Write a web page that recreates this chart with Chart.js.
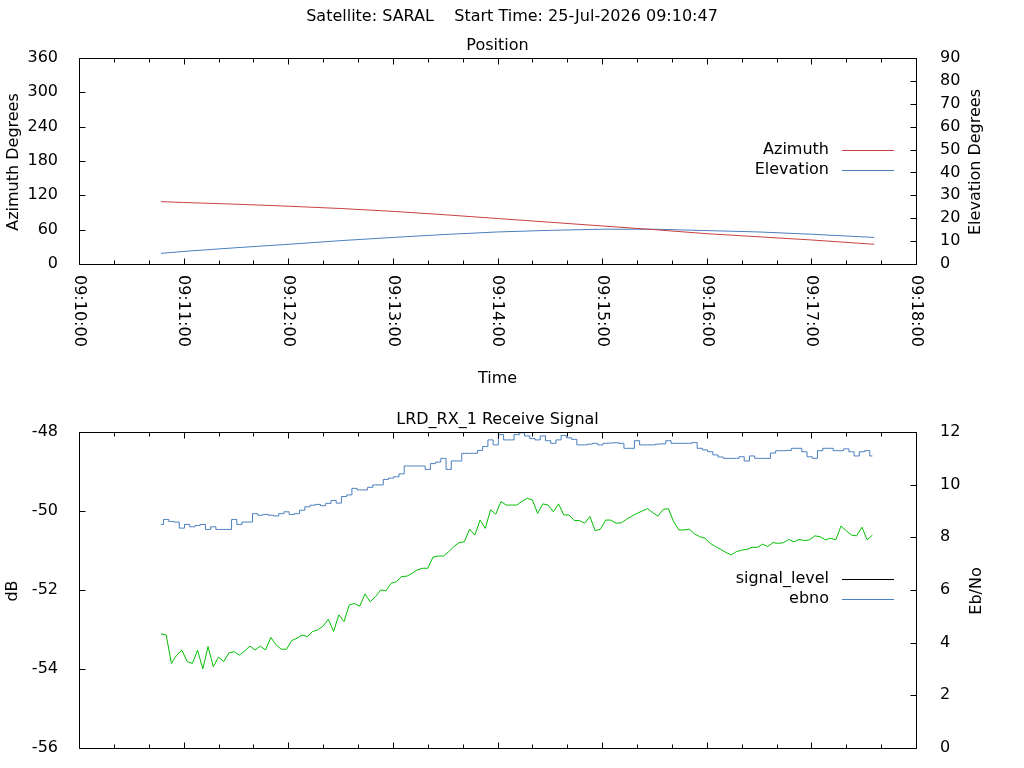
<!DOCTYPE html>
<html>
<head>
<meta charset="utf-8">
<title>SARAL pass</title>
<script src="https://cdn.jsdelivr.net/npm/chart.js@4.4.0/dist/chart.umd.min.js"></script>
<style>
body { margin: 0; background: #fff; }
#wrap { position: relative; width: 1024px; height: 768px; }
canvas { position: absolute; left: 0; }
</style>
</head>
<body>
<div id="wrap">
<canvas id="cvs_pos" width="1024" height="400" style="top:0px"></canvas>
<canvas id="cvs_sig" width="1024" height="368" style="top:400px"></canvas>
</div>
<script>
// seconds after 09:10:00
var timeTicks = ['09:10:00', '09:11:00', '09:12:00', '09:13:00', '09:14:00',
                 '09:15:00', '09:16:00', '09:17:00', '09:18:00'];

var posTimes  = [47, 60, 90, 120, 150, 180, 210, 240, 270, 300, 330, 360, 390, 420, 456];
var azimuth   = [109, 107.5, 104.5, 101, 97, 92, 86, 79.5, 73, 66.5, 60, 53, 47.5, 42, 34.5];
var elevation = [4.65, 5.5, 7.1, 8.6, 10.2, 11.6, 12.9, 14.0, 14.7, 15.2, 15.2, 14.6, 14.0, 13.0, 11.6];

// receive signal sampled every 3 s from 09:10:47
var sigStart = 47, sigStep = 3;
var signalLevel = [
  -53.11, -53.14, -53.86, -53.65, -53.52, -53.81, -53.86, -53.52, -54.00, -53.43,
  -53.94, -53.70, -53.81, -53.59, -53.56, -53.65, -53.54, -53.42, -53.52, -53.42,
  -53.52, -53.20, -53.39, -53.50, -53.50, -53.28, -53.22, -53.14, -53.18, -53.05,
  -53.01, -52.91, -52.74, -53.05, -52.63, -52.80,
  -52.38, -52.34, -52.41, -52.10, -52.30, -52.17, -52.00, -52.02, -51.83, -51.79,
  -51.66, -51.65, -51.58, -51.49, -51.45, -51.45, -51.17, -51.14, -51.14, -51.03,
  -50.90, -50.80, -50.78, -50.46, -50.61, -50.23, -50.44, -49.97, -50.08, -49.76,
  -49.85, -49.85, -49.85, -49.76, -49.68,
  -49.72, -50.06, -49.82, -49.85, -50.02, -49.82, -50.10, -50.10, -50.24, -50.24,
  -50.31, -50.14, -50.50, -50.46, -50.23, -50.23, -50.31, -50.30, -50.21, -50.13,
  -50.06, -50.00, -49.94, -50.04, -50.13, -49.96, -49.94, -50.27, -50.48, -50.48,
  -50.46, -50.58, -50.65, -50.69, -50.82,
  -50.90, -50.97, -51.05, -51.11, -51.03, -50.99, -50.97, -50.92, -50.92, -50.84,
  -50.90, -50.80, -50.82, -50.80, -50.72, -50.78, -50.72, -50.75, -50.73, -50.63,
  -50.65, -50.73, -50.69, -50.73, -50.38, -50.50, -50.61, -50.63, -50.41, -50.73,
  -50.61
];
var ebno = [
  8.49, 8.68, 8.60, 8.58, 8.35, 8.49, 8.40, 8.45, 8.49, 8.30,
  8.40, 8.30, 8.30, 8.30, 8.68, 8.49, 8.58, 8.58, 8.90, 8.84,
  8.87, 8.84, 8.81, 8.90, 8.97, 8.87, 8.90, 9.03, 9.16, 9.22,
  9.25, 9.20, 9.29, 9.40, 9.30, 9.55,
  9.61, 9.86, 9.80, 9.80, 9.90, 9.99, 9.99, 10.20, 10.25, 10.30,
  10.41, 10.71, 10.71, 10.71, 10.71, 10.58, 10.80, 10.86, 11.00, 10.58,
  10.90, 10.90, 11.19, 11.19, 11.19, 11.30, 11.45, 11.70, 11.51, 11.90,
  11.70, 11.70, 11.90, 11.97, 11.85,
  11.75, 11.70, 11.85, 11.67, 11.57, 11.70, 11.87, 11.78, 11.72, 11.51,
  11.51, 11.54, 11.57, 11.51, 11.57, 11.58, 11.59, 11.57, 11.38, 11.38,
  11.67, 11.51, 11.51, 11.51, 11.54, 11.55, 11.67, 11.57, 11.57, 11.57,
  11.57, 11.60, 11.38, 11.32, 11.25,
  11.13, 11.05, 11.00, 11.00, 11.00, 11.06, 10.90, 11.09, 11.00, 11.00,
  11.00, 11.20, 11.29, 11.29, 11.30, 11.38, 11.38, 11.25, 11.06, 11.00,
  11.29, 11.38, 11.38, 11.29, 11.29, 11.36, 11.25, 11.09, 11.25, 11.29,
  11.09
];

var RED = 'rgb(200,64,64)';
var BLUE = 'rgb(74,126,190)';
var GREEN = 'rgb(0,192,0)';
var FONT = '16px "DejaVu Sans", sans-serif';

function pts(xs, ys) {
    return ys.map(function(v, i) { return {x: xs[i], y: v}; });
}
var sigTimes = signalLevel.map(function(v, i) { return sigStart + i * sigStep; });

// gnuplot-like frame: border, inward ticks, titles, legend
var framePlugin = {
    id: 'frame',
    afterDatasetsDraw: function(chart, args, o) {
        var ctx = chart.ctx, a = chart.chartArea;
        var sx = chart.scales.x, yl = chart.scales.y, yr = chart.scales.y2;
        var L = Math.round(a.left) + 0.5, R = Math.round(a.right) + 0.5;
        var T = Math.round(a.top) + 0.5, B = Math.round(a.bottom) + 0.5;
        var cx = (a.left + a.right) / 2;
        ctx.save();
        ctx.strokeStyle = '#000';
        ctx.lineWidth = 1;
        ctx.beginPath();
        ctx.rect(L, T, R - L, B - T);
        for (var s = 0; s <= 480; s += 20) {
            var px = Math.round(sx.getPixelForValue(s)) + 0.5;
            var len = s % 60 === 0 ? 6 : 4;
            ctx.moveTo(px, B); ctx.lineTo(px, B - len);
            ctx.moveTo(px, T); ctx.lineTo(px, T + len);
        }
        yl.ticks.forEach(function(t) {
            var py = Math.round(yl.getPixelForValue(t.value)) + 0.5;
            ctx.moveTo(L, py); ctx.lineTo(L + 6, py);
        });
        yr.ticks.forEach(function(t) {
            var py = Math.round(yr.getPixelForValue(t.value)) + 0.5;
            ctx.moveTo(R, py); ctx.lineTo(R - 6, py);
        });
        ctx.stroke();

        ctx.fillStyle = '#000';
        ctx.font = FONT;
        ctx.textBaseline = 'middle';
        ctx.textAlign = 'center';
        if (o.mainTitle) ctx.fillText(o.mainTitle, 512, 17);
        ctx.fillText(o.title, cx, o.titleY);
        if (o.xTitle) ctx.fillText(o.xTitle, cx, o.xTitleY);

        ctx.save();
        ctx.translate(o.yTitleX, (a.top + a.bottom) / 2 + 1);
        ctx.rotate(-Math.PI / 2);
        ctx.fillText(o.yTitle, 0, 0);
        ctx.restore();
        ctx.save();
        ctx.translate(o.y2TitleX, (a.top + a.bottom) / 2 + 1);
        ctx.rotate(-Math.PI / 2);
        ctx.fillText(o.y2Title, 0, 0);
        ctx.restore();

        if (o.timeLabels) {
            timeTicks.forEach(function(lbl, i) {
                ctx.save();
                ctx.translate(sx.getPixelForValue(i * 60), 275);
                ctx.rotate(Math.PI / 2);
                ctx.textAlign = 'left';
                ctx.fillText(lbl, 0, 0);
                ctx.restore();
            });
        }

        ctx.textAlign = 'right';
        o.legend.forEach(function(it, i) {
            var y = o.legendY + i * 20;
            ctx.fillText(it.text, 829, y);
            ctx.strokeStyle = it.color;
            ctx.beginPath();
            ctx.moveTo(842, Math.round(y) + 0.5);
            ctx.lineTo(894, Math.round(y) + 0.5);
            ctx.stroke();
        });
        ctx.restore();
    }
};

// fixed box sizes so both plots keep the same frame
function fixW(w) {
    return function(s) { s.width = w; s.paddingTop = 0; s.paddingBottom = 0; };
}
function fixH(h) {
    return function(s) { s.height = h; s.paddingLeft = 0; s.paddingRight = 0; };
}

function yAxis(pos, min, max, step, pad, w) {
    return {
        type: 'linear', position: pos, min: min, max: max,
        grid: {display: false}, border: {display: false},
        ticks: {stepSize: step, padding: pad, color: '#000',
                font: {family: 'DejaVu Sans', size: 16}},
        afterFit: fixW(w)
    };
}
function xAxis(h) {
    return {
        type: 'linear', min: 0, max: 480,
        grid: {display: false}, border: {display: false},
        ticks: {display: false},
        afterFit: fixH(h)
    };
}
function line(label, data, color, axis, stepped) {
    return {label: label, data: data, borderColor: color, backgroundColor: color,
            borderWidth: 1, pointRadius: 0, tension: 0, fill: false,
            stepped: stepped || false, yAxisID: axis};
}

var posConfig = {
    type: 'line',
    data: {
        datasets: [
            line('Azimuth', pts(posTimes, azimuth), RED, 'y'),
            line('Elevation', pts(posTimes, elevation), BLUE, 'y2')
        ]
    },
    options: {
        responsive: false, animation: false,
        layout: {padding: {top: 58, left: 0, right: 0, bottom: 0}},
        scales: {
            x: xAxis(136),
            y: yAxis('left', 0, 360, 60, 13, 79),
            y2: yAxis('right', 0, 90, 10, 16, 108)
        },
        plugins: {
            legend: {display: false}, tooltip: {enabled: false},
            frame: {
                mainTitle: 'Satellite: SARAL    Start Time: 25-Jul-2026 09:10:47',
                title: 'Position', titleY: 46,
                xTitle: 'Time', xTitleY: 379,
                yTitle: 'Azimuth Degrees', yTitleX: 14,
                y2Title: 'Elevation Degrees', y2TitleX: 976,
                timeLabels: true,
                legendY: 150,
                legend: [{text: 'Azimuth', color: RED}, {text: 'Elevation', color: BLUE}]
            }
        }
    },
    plugins: [framePlugin]
};

var sigConfig = {
    type: 'line',
    data: {
        datasets: [
            line('signal_level', pts(sigTimes, signalLevel), GREEN, 'y'),
            line('ebno', pts(sigTimes, ebno), BLUE, 'y2', 'middle')
        ]
    },
    options: {
        responsive: false, animation: false,
        layout: {padding: {top: 32, left: 0, right: 0, bottom: 0}},
        scales: {
            x: xAxis(20),
            y: yAxis('left', -56, -48, 2, 13, 79),
            y2: yAxis('right', 0, 12, 2, 16, 108)
        },
        plugins: {
            legend: {display: false}, tooltip: {enabled: false},
            frame: {
                title: 'LRD_RX_1 Receive Signal', titleY: 20,
                yTitle: 'dB', yTitleX: 13,
                y2Title: 'Eb/No', y2TitleX: 977,
                timeLabels: false,
                legendY: 179,
                legend: [{text: 'signal_level', color: '#000'}, {text: 'ebno', color: BLUE}]
            }
        }
    },
    plugins: [framePlugin]
};

window.onload = function() {
    window.posChart = new Chart(document.getElementById('cvs_pos'), posConfig);
    window.sigChart = new Chart(document.getElementById('cvs_sig'), sigConfig);
};
</script>
</body>
</html>
